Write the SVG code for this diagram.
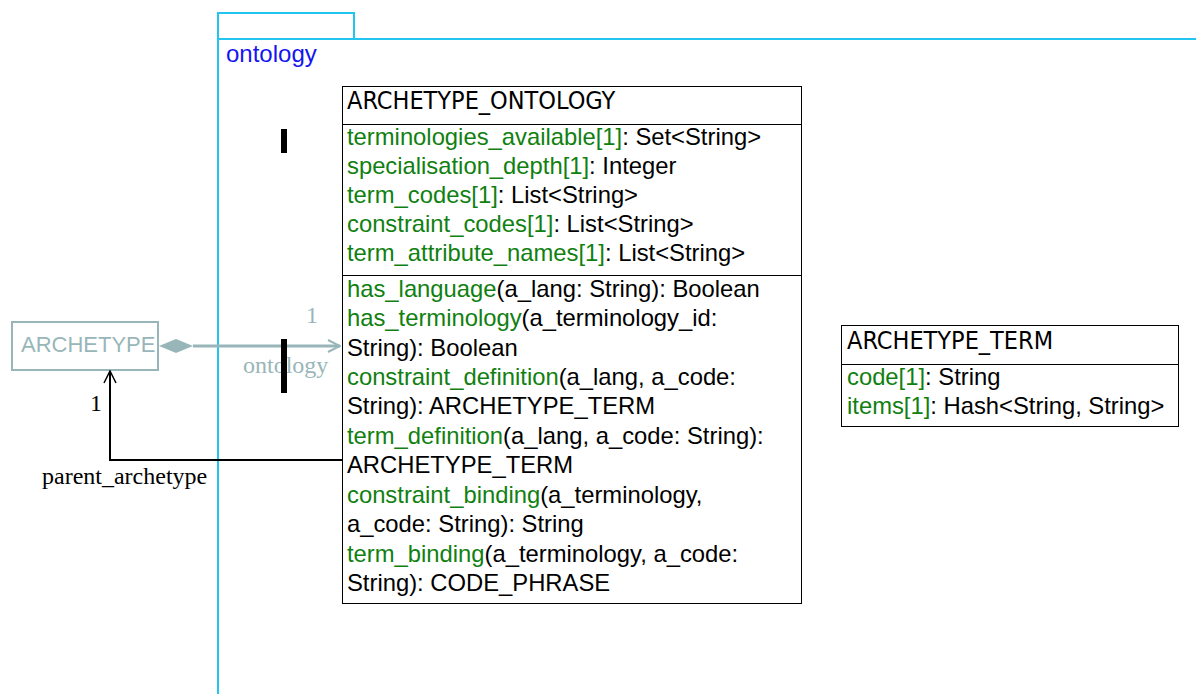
<svg xmlns="http://www.w3.org/2000/svg" width="1196" height="694" viewBox="0 0 1196 694">
<style>
.pkg{fill:none;stroke:#22c4f0;stroke-width:2}
.box{fill:#fff;stroke:#000;stroke-width:1}
.t{font-family:"Liberation Sans",Arial,sans-serif;font-size:23.8px;fill:#000}
.h{font-family:"DejaVu Sans Condensed","DejaVu Sans",sans-serif;font-stretch:condensed;font-size:25px;fill:#000}
.a{font-family:"Liberation Sans",Arial,sans-serif;font-size:22px}
.g{fill:#108010}
.s{font-family:"Liberation Serif","Times New Roman",serif;font-size:24px}
.grey{fill:#98b6b9}
</style>
<defs>
<marker id="openG" markerWidth="14" markerHeight="14" refX="13" refY="7" orient="auto" markerUnits="userSpaceOnUse"><path d="M1,1 L13,7 L1,13" fill="none" stroke="#98b6b9" stroke-width="2"/></marker>
<marker id="openB" markerWidth="14" markerHeight="14" refX="13" refY="7" orient="auto" markerUnits="userSpaceOnUse"><path d="M1,1 L13,7 L1,13" fill="none" stroke="#000" stroke-width="1.5"/></marker>
</defs>
<g id="package">
<path class="pkg" d="M218,39 L218,13 L354,13 L354,39"/>
<path class="pkg" d="M218,694 L218,39 L1196,39"/>
<text x="226" y="62" font-family="Liberation Sans,Arial,sans-serif" font-size="24" fill="#1515f0">ontology</text>
</g>
<g id="ARCHETYPE">
<rect x="12" y="322" width="146" height="48" fill="#fff" stroke="#98b6b9" stroke-width="2"/>
<text x="21" y="352" class="a grey">ARCHETYPE</text>
</g>
<g id="ARCHETYPE_ONTOLOGY">
<rect class="box" x="342.5" y="86.5" width="459" height="517"/>
<line x1="342" y1="124.5" x2="802" y2="124.5" stroke="#000"/>
<line x1="342" y1="275.5" x2="802" y2="275.5" stroke="#000"/>
<text x="347" y="109" class="h">ARCHETYPE_ONTOLOGY</text>
<text class="t" x="347" y="145"><tspan class="g">terminologies_available[1]</tspan>: Set&lt;String&gt;</text>
<text class="t" x="347" y="174"><tspan class="g">specialisation_depth[1]</tspan>: Integer</text>
<text class="t" x="347" y="203"><tspan class="g">term_codes[1]</tspan>: List&lt;String&gt;</text>
<text class="t" x="347" y="232"><tspan class="g">constraint_codes[1]</tspan>: List&lt;String&gt;</text>
<text class="t" x="347" y="261"><tspan class="g">term_attribute_names[1]</tspan>: List&lt;String&gt;</text>
<text class="t" x="347" y="297"><tspan class="g">has_language</tspan>(a_lang: String): Boolean</text>
<text class="t" x="347" y="326"><tspan class="g">has_terminology</tspan>(a_terminology_id:</text>
<text class="t" x="347" y="356">String): Boolean</text>
<text class="t" x="347" y="385"><tspan class="g">constraint_definition</tspan>(a_lang, a_code:</text>
<text class="t" x="347" y="414">String): ARCHETYPE_TERM</text>
<text class="t" x="347" y="444"><tspan class="g">term_definition</tspan>(a_lang, a_code: String):</text>
<text class="t" x="347" y="473">ARCHETYPE_TERM</text>
<text class="t" x="347" y="503"><tspan class="g">constraint_binding</tspan>(a_terminology,</text>
<text class="t" x="347" y="532">a_code: String): String</text>
<text class="t" x="347" y="562"><tspan class="g">term_binding</tspan>(a_terminology, a_code:</text>
<text class="t" x="347" y="591">String): CODE_PHRASE</text>
</g>
<g id="ARCHETYPE_TERM">
<rect class="box" x="841.5" y="325.5" width="337" height="101"/>
<line x1="841" y1="364.5" x2="1179" y2="364.5" stroke="#000"/>
<text x="847" y="349" class="h">ARCHETYPE_TERM</text>
<text class="t" x="847" y="385"><tspan class="g">code[1]</tspan>: String</text>
<text class="t" x="847" y="414"><tspan class="g">items[1]</tspan>: Hash&lt;String, String&gt;</text>
</g>
<g id="connectors">
<path d="M159,346 L176,339 L193,346 L176,353 Z" fill="#98b6b9"/>
<line x1="193" y1="346" x2="340" y2="346" stroke="#98b6b9" stroke-width="3" marker-end="url(#openG)"/>
<text x="306" y="323" class="s grey">1</text>
<text x="243" y="373" class="s grey">ontology</text>
<rect x="281" y="129" width="6" height="24" fill="#000"/>
<rect x="281" y="339" width="6" height="54" fill="#000"/>
<polyline points="342,460 110,460 110,371" fill="none" stroke="#000" stroke-width="2" marker-end="url(#openB)"/>
<text x="90" y="411" class="s">1</text>
<text x="42" y="484" class="s">parent_archetype</text>
</g>
</svg>
